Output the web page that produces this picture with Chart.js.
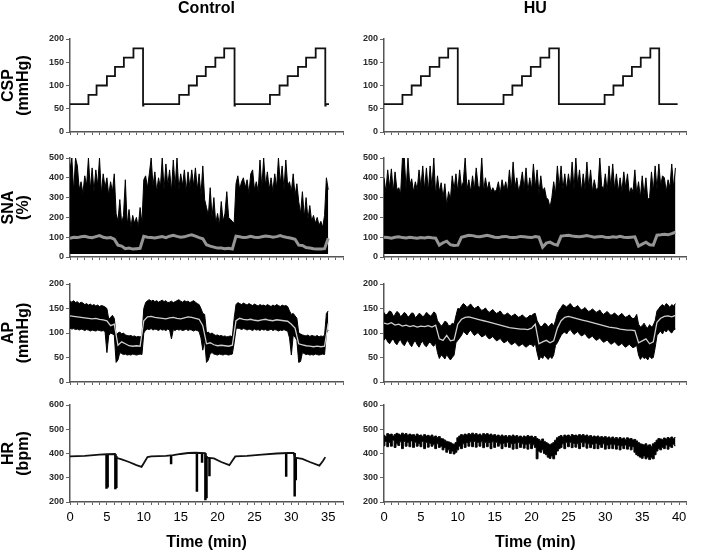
<!DOCTYPE html>
<html>
<head>
<meta charset="utf-8">
<script src="https://cdn.jsdelivr.net/npm/chart.js@4.4.1/dist/chart.umd.min.js"></script>
<style>
  html, body { margin: 0; padding: 0; background: #fff; }
  #wrap { position: relative; width: 709px; height: 552px; overflow: hidden; }
  canvas { position: absolute; }
</style>
</head>
<body>
<div id="wrap">
  <canvas id="cspCtl"></canvas><canvas id="cspHu"></canvas>
  <canvas id="snaCtl"></canvas><canvas id="snaHu"></canvas>
  <canvas id="apCtl"></canvas><canvas id="apHu"></canvas>
  <canvas id="hrCtl"></canvas><canvas id="hrHu"></canvas>
</div>
<script>
// ---- CSP (carotid sinus pressure) steps: change times (min) and levels (mmHg)
const cspCtlTime  = [0, 2.5, 3.6, 5.0, 6.1, 7.3, 8.6, 9.9, 9.95, 14.8, 16.1, 17.2, 18.4, 19.7, 20.9, 22.3, 22.35, 27.1, 28.4, 29.5, 30.9, 32.0, 33.3, 34.6, 34.65, 35.1];
const cspCtlLevel = [60, 80, 100, 120, 140, 160, 180, 57, 60, 80, 100, 120, 140, 160, 180, 57, 60, 80, 100, 120, 140, 160, 180, 57, 60, 60];
const cspHuTime   = [0, 2.5, 3.75, 5.0, 6.2, 7.5, 8.7, 10.0, 16.2, 17.4, 18.7, 19.9, 21.2, 22.4, 23.7, 29.9, 31.1, 32.4, 33.6, 34.8, 36.1, 37.3, 39.8];
const cspHuLevel  = [60, 80, 100, 120, 140, 160, 180, 60, 80, 100, 120, 140, 160, 180, 60, 80, 100, 120, 140, 160, 180, 60, 60];

// ---- SNA (%): spike envelope every 0.25 min, mean every 0.5 min
const snaCtlPeak = [440,500,330,500,460,340,380,320,410,360,500,340,450,330,440,360,500,320,420,350,400,310,380,330,420,
  220,180,290,170,210,390,160,240,150,210,170,200,150,250,170,
  390,410,350,420,500,360,430,330,400,350,500,340,470,360,440,330,490,350,500,340,420,360,440,330,430,350,440,360,450,340,420,310,460,290,
  250,210,350,200,300,170,220,160,280,180,220,330,200,190,180,170,
  370,410,340,380,400,350,390,320,420,440,340,380,330,490,350,500,360,430,340,400,330,420,350,500,370,460,340,490,360,380,330,420,310,370,
  280,220,330,200,300,190,260,180,210,170,200,160,180,150,210,
  400,340];
const snaCtlMean = [95,100,98,102,105,100,97,103,108,100,96,98,90,
  60,55,42,45,40,42,44,
  105,100,98,96,100,103,98,105,110,104,100,102,108,112,105,98,92,
  62,55,50,45,45,42,44,40,
  105,102,98,100,104,100,98,102,106,104,100,103,108,102,98,95,90,
  60,58,48,45,42,40,40,42,
  95];
const snaHuPeak = [400,330,440,350, 445,330,430,340, 350,320,500,500, 340,500,360,395, 330,380,340,440,
  350,460,340,450, 330,460,350,500, 310,410,330,375, 300,370,260,330, 290,410,340,420,
  330,440,350,380, 500,340,390,330, 410,340,450,360, 350,500,330,400, 340,380,330,350,
  330,340,380,320, 390,340,380,330, 440,340,480,350, 400,330,370,430, 340,450,330,400,
  340,470,350,440, 320,410,330,350, 300,290,250,300, 380,320,460,350, 460,340,420,340,
  420,350,480,340, 500,360,440,330, 420,340,480,350, 440,330,390,340, 350,500,360,340,
  420,330,460,350, 470,340,420,330, 400,330,430,350, 420,320,350,330, 440,320,380,300,
  410,310,400,290, 300,430,330,460, 340,470,360,410, 400,330,390,350, 470,350,450];
const snaHuMean = [100,98,95,100,102,98,96,100,97,95,98,96,100,97,95,
  60,72,80,62,58,60,
  100,105,110,108,104,102,106,110,105,100,98,102,104,100,98,100,104,102,100,98,103,100,
  50,70,75,65,60,
  105,108,110,106,104,102,105,108,104,100,102,104,100,98,102,100,104,100,98,100,102,
  55,65,75,62,60,
  110,112,115,112,118,125];

// ---- AP (mmHg): band every 0.25 min, mean every 0.5 min
const apCtlUpper = [165,163,166,162,164,160,163,161,158,160,157,159,156,158,155,157,154,156,155,153,
  150,128,132,136,130,95,100,102,98,100,96,95,94,95,93,94,92,93,92,94,
  150,162,166,168,165,167,164,166,163,165,167,164,166,162,163,165,162,164,166,168,165,163,166,164,165,162,164,166,163,160,158,
  150,140,138,100,102,98,100,97,95,96,94,95,93,94,92,93,94,92,130,
  158,162,160,158,161,159,157,160,158,156,159,157,155,158,156,157,155,158,156,154,157,155,158,156,154,157,155,156,154,
  145,138,140,135,130,100,98,96,95,94,96,93,95,94,93,95,92,94,93,95,
  140,145];
const apCtlLower = [110,108,109,107,108,106,108,107,105,107,106,104,106,105,104,106,105,104,105,103,
  60,95,100,98,96,40,45,60,58,56,57,55,56,55,57,56,55,56,57,56,
  100,106,108,107,109,106,108,107,105,108,106,107,105,108,106,88,107,105,108,106,107,105,106,108,105,107,106,104,106,105,103,
  90,65,85,40,45,58,60,57,56,55,57,56,55,57,56,55,56,57,80,
  108,110,109,107,109,108,106,108,107,105,108,106,107,105,108,106,107,105,106,108,105,107,106,104,106,105,107,105,104,
  90,55,95,92,85,40,42,60,58,56,57,55,56,55,57,56,55,56,57,56,
  100,105];
const apCtlMean = [135,134,133,132,131,130,129,130,128,127,
  125,115,118,75,82,78,74,73,74,73,
  125,133,134,132,131,130,129,131,132,130,129,131,133,132,130,128,
  115,78,80,76,74,75,74,73,75,
  125,130,128,127,128,126,125,127,128,126,125,127,126,125,124,
  118,110,78,76,74,73,72,73,72,73,
  120];
const apHuUpper = [142,136,140,145,143,134,138,144,141,133,137,142,139,132,136,141,140,131,135,140,138,133,136,142,139,134,137,143,140,
  125,120,114,118,124,122,115,115,120,118,135,
  150,149,155,160,157,152,156,159,154,150,152,155,150,146,148,151,146,142,145,148,143,140,142,145,140,136,138,141,137,134,136,139,135,132,134,137,133,130,132,136,135,139,140,
  125,118,112,115,120,118,112,116,120,114,125,
  140,147,152,158,156,153,157,160,155,151,153,156,151,147,149,152,147,144,146,149,146,142,144,147,141,138,141,144,140,136,138,141,137,134,137,140,135,132,134,137,132,129,131,138,
  118,112,115,120,113,110,117,112,116,125,
  145,150,155,158,154,160,157,152,158,155,160];
const apHuLower = [85,90,82,78,84,88,80,76,83,86,78,74,81,85,77,72,80,84,76,71,79,83,75,72,78,82,76,73,80,
  60,48,55,52,47,56,50,45,50,55,80,
  85,90,95,103,100,96,102,106,100,95,98,101,96,92,94,97,92,88,90,93,88,84,86,89,84,80,82,85,80,76,78,81,77,73,75,78,74,71,74,77,76,72,80,
  60,45,52,48,55,50,46,52,48,55,75,
  80,88,95,100,102,98,104,107,102,97,100,103,98,94,96,99,93,89,91,94,89,85,87,90,85,81,83,86,81,77,79,82,78,74,76,79,74,71,74,77,73,70,72,75,
  55,46,52,48,50,45,53,48,50,70,
  95,100,104,98,106,102,108,103,100,106,108];
const apHuMean = [120,118,121,116,118,114,116,113,115,112,114,113,115,112,116,
  88,85,95,84,86,
  118,128,132,133,131,129,127,125,123,121,119,117,115,113,111,110,109,108,108,107,110,118,
  78,82,85,80,84,
  110,125,132,134,132,130,128,126,124,122,120,118,116,114,112,111,110,108,107,106,106,105,
  80,84,88,78,82,
  122,130,134,135,133,136];

// ---- HR (bpm)
const hrCtlTime  = [0, 2, 4, 5.0, 6.1, 6.3, 7, 8, 9, 9.7, 10.0, 10.5, 11, 13, 14, 15, 16, 17, 18.3, 18.5, 19.5, 20.5, 21.6, 22.0, 22.4, 24, 26, 28, 29.5, 30.3, 30.5, 31.5, 32.5, 33.8, 34.3, 34.6];
const hrCtlValue = [388, 390, 395, 397, 398, 382, 376, 365, 352, 345, 360, 385, 388, 390, 393, 398, 402, 403, 402, 383, 380, 365, 352, 370, 388, 390, 395, 400, 402, 402, 383, 378, 365, 350, 370, 385];
const hrCtlSpikeTime = [4.95, 5.1, 6.15, 6.28, 13.7, 17.2, 17.9, 18.35, 18.5, 18.9, 29.3, 30.45, 30.6];
const hrCtlSpikeLow  = [255, 260, 253, 258, 356, 242, 362, 207, 215, 306, 304, 223, 290];
const hrCtlSpikeTop  = [397, 397, 398, 390, 390, 403, 403, 402, 390, 381, 402, 402, 385];
const hrHuUpper = [475,470,482,478, 480,472,478,483, 480,476,484,478, 482,475,480,476, 478,472,480,474,
  476,470,478,472, 475,470,476,468, 472,466,470,462, 460,455,450,448, 445,440,438,445,
  465,472,478,475, 480,476,482,478, 484,478,482,476, 480,474,482,478, 482,476,480,474,
  478,472,476,470, 476,470,474,468, 474,470,476,470, 474,468,472,466, 472,468,474,470,
  472,466,470,462, 458,452,460,450, 445,440,436,440, 445,455,465,470, 474,468,476,472,
  476,470,478,474, 476,472,478,474, 478,472,476,470, 474,468,472,468, 472,466,470,466,
  470,464,468,462, 468,462,466,460, 466,460,464,458, 465,460,462,456, 458,452,445,440,
  438,435,440,432, 436,430,440,445, 455,462,460,458, 464,460,466,462, 468,462,466];
const hrHuLower = [432,450,428,445, 430,455,425,440, 433,448,420,450, 430,445,428,452, 425,446,430,440,
  428,450,420,445, 426,442,430,438, 420,440,425,430, 415,425,405,415, 400,410,398,405,
  415,430,420,440, 425,445,430,448, 428,450,426,446, 430,448,424,445, 428,445,420,448,
  425,446,430,440, 420,442,428,445, 425,440,418,442, 420,445,425,440, 422,438,418,440,
  420,436,425,378, 410,405,415,400, 395,385,380,390, 378,395,410,420, 425,440,420,445,
  428,446,424,442, 426,440,420,445, 428,444,422,440, 424,438,420,442, 420,436,425,440,
  418,435,420,438, 420,436,418,434, 415,432,420,435, 418,430,415,428, 405,395,390,385,
  380,390,378,385, 375,382,378,395, 410,420,415,425, 420,435,418,430, 425,438,432];

// ---- helpers
const FONT = '"Liberation Sans", Arial, Helvetica, sans-serif';
Chart.defaults.font.family = FONT;
Chart.defaults.color = '#000';

const seq = (vals, step) => vals.map((v, i) => ({ x: i * step, y: v }));
const pairs = (xs, ys) => xs.map((x, i) => ({ x, y: ys[i] }));
const spikes = (ts, lows, tops) => ts.flatMap((t, i) => [{ x: t, y: tops[i] }, { x: t, y: lows[i] }, { x: t, y: null }]);

const COLS = {
  ctl: { left: 0,   width: 355, axisW: 70, padR: 12,   tMax: 37, showTitle: true },
  hu:  { left: 355, width: 354, axisW: 29, padR: 22.5, tMax: 41, showTitle: false }
};
const ROWS = {
  csp: { top: 0,   height: 140, padTop: 0, yMin: 0,   yMax: 200, step: 50,  label: ['CSP', '(mmHg)'] },
  sna: { top: 150, height: 115, padTop: 8, yMin: 0,   yMax: 500, step: 100, label: ['SNA', '(%)'] },
  ap:  { top: 276, height: 114, padTop: 8, yMin: 0,   yMax: 200, step: 50,  label: ['AP', '(mmHg)'] },
  hr:  { top: 397, height: 155, padTop: 8, yMin: 200, yMax: 600, step: 100, label: ['HR', '(bpm)'], bottom: true }
};

function makePanel(id, col, row, datasets, colTitle) {
  const canvas = document.getElementById(id);
  canvas.width = col.width;
  canvas.height = row.height;
  canvas.style.left = col.left + 'px';
  canvas.style.top = row.top + 'px';
  const isBottom = !!row.bottom;

  return new Chart(canvas, {
    type: 'line',
    data: { datasets },
    options: {
      responsive: false,
      animation: false,
      devicePixelRatio: 1,
      layout: { padding: { top: row.padTop, right: col.padR, bottom: isBottom ? 0 : 2, left: 0 } },
      elements: { point: { radius: 0 }, line: { tension: 0 } },
      plugins: {
        legend: { display: false },
        tooltip: { enabled: false },
        title: {
          display: !!colTitle,
          text: colTitle || '',
          fullSize: false,
          color: '#000',
          font: { size: 16, weight: 'bold', lineHeight: 1 },
          padding: { top: 1, bottom: 22 }
        }
      },
      scales: {
        x: {
          type: 'linear', min: 0, max: col.tMax, offset: false,
          ticks: {
            display: isBottom, stepSize: 1, autoSkip: false, maxRotation: 0, padding: 5,
            color: '#000', font: { size: 13 },
            callback: v => (v % 5 === 0 ? v : '')
          },
          grid: { drawOnChartArea: false, drawTicks: true, tickLength: 3, color: '#666' },
          border: { display: true, color: '#555', width: 1.5 },
          title: {
            display: isBottom, text: 'Time (min)', color: '#000',
            font: { size: 16, weight: 'bold', lineHeight: 1.125 },
            padding: { top: 0, bottom: 0 }
          },
          afterFit: s => { s.height = isBottom ? 50 : 6; }
        },
        y: {
          min: row.yMin, max: row.yMax,
          ticks: { stepSize: row.step, color: '#2a2a2a', padding: 2, font: { size: 9, weight: 'bold' } },
          grid: { drawOnChartArea: false, drawTicks: true, tickLength: 4, color: '#666' },
          border: { display: true, color: '#555', width: 1.5 },
          title: {
            display: col.showTitle, text: row.label, color: '#000',
            font: { size: 16, weight: 'bold', lineHeight: 0.95 },
            padding: { top: 1, bottom: 0 }
          },
          afterFit: s => { s.width = col.axisW; }
        }
      }
    }
  });
}

// ---- CSP
const cspStyle = { borderColor: '#111', borderWidth: 1.8, stepped: 'before', fill: false };
makePanel('cspCtl', COLS.ctl, ROWS.csp, [{ ...cspStyle, data: pairs(cspCtlTime, cspCtlLevel) }], 'Control');
makePanel('cspHu', COLS.hu, ROWS.csp, [{ ...cspStyle, data: pairs(cspHuTime, cspHuLevel) }], 'HU');

// ---- SNA
const snaSets = (peak, mean) => [
  { data: seq(mean, 0.5), borderColor: '#959595', borderWidth: 3, fill: false },
  { data: seq(peak, 0.25), borderColor: '#000', borderWidth: 1, backgroundColor: '#000', fill: { value: 15 } }
];
makePanel('snaCtl', COLS.ctl, ROWS.sna, snaSets(snaCtlPeak, snaCtlMean));
makePanel('snaHu', COLS.hu, ROWS.sna, snaSets(snaHuPeak, snaHuMean));

// ---- AP
const apSets = (upper, lower, mean) => [
  { data: seq(mean, 0.5), borderColor: '#cfcfcf', borderWidth: 1.3, fill: false },
  { data: seq(upper, 0.25), borderColor: '#000', borderWidth: 1, backgroundColor: '#000', fill: '+1' },
  { data: seq(lower, 0.25), borderColor: '#000', borderWidth: 1, fill: false }
];
makePanel('apCtl', COLS.ctl, ROWS.ap, apSets(apCtlUpper, apCtlLower, apCtlMean));
makePanel('apHu', COLS.hu, ROWS.ap, apSets(apHuUpper, apHuLower, apHuMean));

// ---- HR
makePanel('hrCtl', COLS.ctl, ROWS.hr, [
  { data: pairs(hrCtlTime, hrCtlValue), borderColor: '#111', borderWidth: 1.8, fill: false },
  { data: spikes(hrCtlSpikeTime, hrCtlSpikeLow, hrCtlSpikeTop), borderColor: '#000', borderWidth: 2.5, spanGaps: false, fill: false }
]);
makePanel('hrHu', COLS.hu, ROWS.hr, [
  { data: seq(hrHuUpper, 0.25), borderColor: '#000', borderWidth: 1, backgroundColor: '#000', stepped: 'middle', fill: '+1' },
  { data: seq(hrHuLower, 0.25), borderColor: '#000', borderWidth: 1, stepped: 'middle', fill: false }
]);
</script>
</body>
</html>
